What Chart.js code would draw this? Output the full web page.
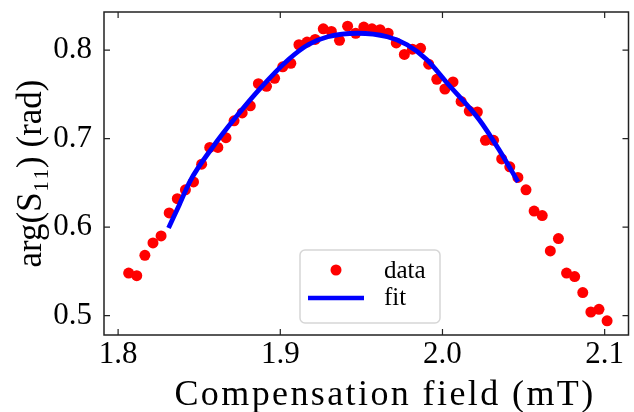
<!DOCTYPE html>
<html>
<head>
<meta charset="utf-8">
<script src="https://cdn.jsdelivr.net/npm/chart.js@4/dist/chart.umd.min.js"></script>
<style>
  html, body { margin: 0; padding: 0; background: #fff; }
  #wrap { width: 634px; height: 412px; position: relative; }
</style>
</head>
<body>
<div id="wrap"><canvas id="chart"></canvas></div>
<script>
// measured points
const fieldData = [1.8065, 1.8115, 1.8165, 1.8215, 1.8265, 1.8315, 1.8365, 1.8415, 1.8465, 1.8515,
  1.8565, 1.8615, 1.8665, 1.8715, 1.8765, 1.8815, 1.8865, 1.8915, 1.8965, 1.9015,
  1.9065, 1.9115, 1.9165, 1.9215, 1.9265, 1.9315, 1.9365, 1.9415, 1.9465, 1.9515,
  1.9565, 1.9615, 1.9665, 1.9715, 1.9765, 1.9815, 1.9865, 1.9915, 1.9965, 2.0015,
  2.0065, 2.0115, 2.0165, 2.0215, 2.0265, 2.0315, 2.0365, 2.0415, 2.0465, 2.0515,
  2.0565, 2.0615, 2.0665, 2.0715, 2.0765, 2.0815, 2.0865, 2.0915, 2.0965, 2.1015];
const phaseData = [0.548, 0.545, 0.568, 0.582, 0.590, 0.616, 0.632, 0.642, 0.651, 0.671,
  0.690, 0.690, 0.701, 0.720, 0.729, 0.737, 0.762, 0.759, 0.768, 0.781,
  0.785, 0.806, 0.809, 0.812, 0.824, 0.821, 0.811, 0.827, 0.819, 0.826,
  0.824, 0.823, 0.819, 0.808, 0.795, 0.801, 0.802, 0.784, 0.767, 0.756,
  0.764, 0.742, 0.731, 0.730, 0.698, 0.698, 0.677, 0.668, 0.656, 0.642,
  0.618, 0.613, 0.573, 0.587, 0.548, 0.544, 0.526, 0.504, 0.507, 0.494];

// fit curve
const fitField = [1.8311, 1.8377, 1.8444, 1.8578, 1.8725, 1.8878, 1.9049, 1.9171, 1.9293,
  1.9477, 1.9660, 1.9782, 1.9904, 2.0027, 2.0228, 2.0350, 2.0466];
const fitPhase = [0.599, 0.625, 0.652, 0.689, 0.724, 0.757, 0.789, 0.806, 0.815,
  0.819, 0.815, 0.806, 0.789, 0.763, 0.721, 0.687, 0.651];

const xTicks = [1.8, 1.9, 2.0, 2.1];
const yTicks = [0.5, 0.6, 0.7, 0.8];
const xRange = [1.7913, 2.1147];
const yRange = [0.478, 0.843];
const xTitle = 'Compensation field (mT)';

const FONT = '"Liberation Serif", "DejaVu Serif", serif';

// frame, inward ticks on all sides, x title and the legend box
const framePlugin = {
  id: 'frame',
  afterDraw(chart) {
    const { ctx, chartArea: a, scales } = chart;
    ctx.save();
    ctx.strokeStyle = '#222';
    ctx.lineWidth = 1.5;
    ctx.strokeRect(a.left, a.top, a.right - a.left, a.bottom - a.top);
    ctx.lineWidth = 1.2;
    ctx.beginPath();
    xTicks.forEach(v => {
      const px = scales.x.getPixelForValue(v);
      ctx.moveTo(px, a.bottom); ctx.lineTo(px, a.bottom - 6);
      ctx.moveTo(px, a.top); ctx.lineTo(px, a.top + 6);
    });
    yTicks.forEach(v => {
      const py = scales.y.getPixelForValue(v);
      ctx.moveTo(a.left, py); ctx.lineTo(a.left + 6, py);
      ctx.moveTo(a.right, py); ctx.lineTo(a.right - 6, py);
    });
    ctx.stroke();

    // x axis title, spaced out a little to match the wider TeX font
    ctx.fillStyle = '#000';
    ctx.font = '36px ' + FONT;
    ctx.letterSpacing = '2.4px';
    ctx.textAlign = 'center';
    ctx.textBaseline = 'alphabetic';
    ctx.fillText(xTitle, 385, 405);
    ctx.letterSpacing = '0px';

    // legend
    const lx = 300, ly = 250, lw = 140, lh = 73;
    ctx.beginPath();
    ctx.roundRect(lx, ly, lw, lh, 5);
    ctx.fillStyle = 'rgba(255,255,255,0.8)';
    ctx.fill();
    ctx.strokeStyle = '#d6d6d6';
    ctx.lineWidth = 1.5;
    ctx.stroke();

    ctx.fillStyle = '#ff0000';
    ctx.beginPath();
    ctx.arc(336, 270, 5.5, 0, Math.PI * 2);
    ctx.fill();

    ctx.strokeStyle = '#0000ff';
    ctx.lineWidth = 4.5;
    ctx.beginPath();
    ctx.moveTo(308, 298); ctx.lineTo(364, 298);
    ctx.stroke();

    ctx.fillStyle = '#000';
    ctx.font = '25px ' + FONT;
    ctx.textBaseline = 'middle';
    ctx.textAlign = 'left';
    ctx.fillText('data', 384, 271);
    ctx.fillText('fit', 384, 298);
    ctx.restore();
  }
};

new Chart(document.getElementById('chart'), {
  type: 'scatter',
  data: {
    datasets: [
      {
        label: 'fit',
        data: fitField.map((x, i) => ({ x, y: fitPhase[i] })),
        showLine: true,
        borderColor: '#0000ff',
        borderWidth: 4.8,
        pointRadius: 0,
        cubicInterpolationMode: 'monotone',
        order: 0
      },
      {
        label: 'data',
        data: fieldData.map((x, i) => ({ x, y: phaseData[i] })),
        backgroundColor: '#ff0000',
        borderColor: '#ff0000',
        borderWidth: 0,
        pointRadius: 5.5,
        order: 1
      }
    ]
  },
  options: {
    responsive: true,
    maintainAspectRatio: false,
    animation: false,
    devicePixelRatio: 1,
    layout: { padding: { left: 0, top: 12, right: 1, bottom: 0 } },
    plugins: {
      legend: { display: false },
      tooltip: { enabled: false }
    },
    scales: {
      x: {
        type: 'linear',
        min: xRange[0],
        max: xRange[1],
        grid: { display: false, drawTicks: false },
        border: { display: false },
        afterBuildTicks: s => { s.ticks = xTicks.map(v => ({ value: v })); },
        afterFit: s => {
          s.height = 77;
          s.paddingLeft = 0;
          s.paddingRight = 0;
        },
        ticks: {
          color: '#000',
          padding: 1,
          font: { family: FONT, size: 31 },
          callback: v => v.toFixed(1)
        }
      },
      y: {
        type: 'linear',
        min: yRange[0],
        max: yRange[1],
        grid: { display: false, drawTicks: false },
        border: { display: false },
        afterBuildTicks: s => { s.ticks = yTicks.map(v => ({ value: v })); },
        afterFit: s => {
          s.width = 104;
          s.paddingTop = 0;
          s.paddingBottom = 0;
        },
        ticks: {
          color: '#000',
          padding: 12,
          font: { family: FONT, size: 31 },
          callback: v => v.toFixed(1)
        },
        title: {
          display: true,
          text: 'arg(S\u2081\u2081) (rad)',
          color: '#000',
          padding: { top: 11, bottom: 0 },
          font: { family: FONT, size: 35 }
        }
      }
    }
  },
  plugins: [framePlugin]
});
</script>
</body>
</html>
